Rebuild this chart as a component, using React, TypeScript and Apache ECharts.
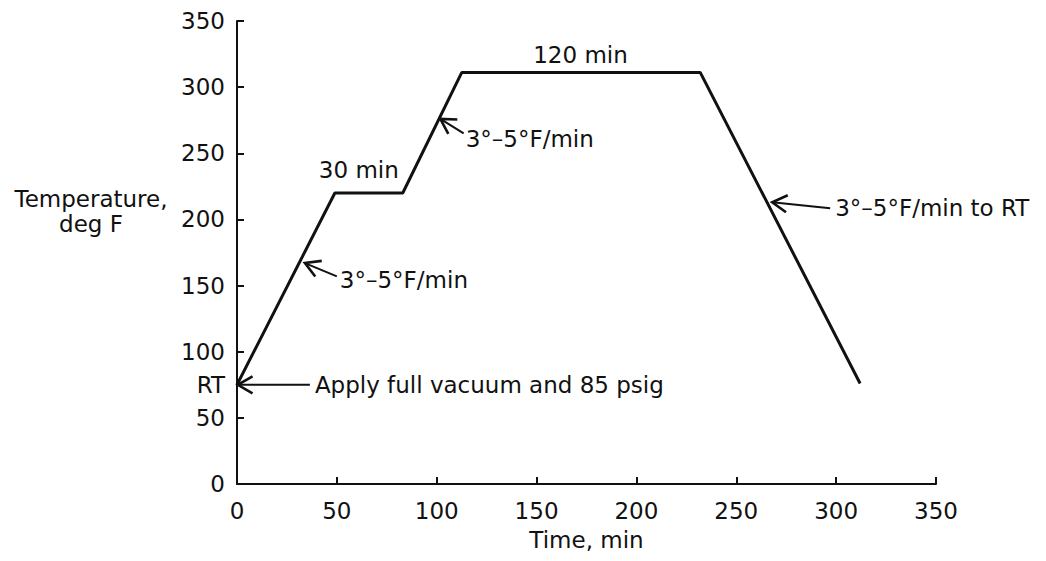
import React, { useEffect, useRef } from "react";
import * as echarts from "echarts";

// Cure cycle: time (min) vs temperature (deg F)
const timeMin: number[] = [0, 49, 83, 112.5, 232, 312];
const tempF: number[] = [75, 220, 220, 311, 311, 76];

const xTicks = { min: 0, max: 350, interval: 50 };
const yTicks = { min: 0, max: 350, interval: 50 };

const roomTemp = 75;

// Arrow annotations: tip on the curve, tail of the shaft, and label anchor (left-middle), in data coords
const arrowNotes: {
  text: string;
  tip: [number, number];
  tail: [number, number];
  label: [number, number];
}[] = [
  { text: "Apply full vacuum and 85 psig", tip: [0.4, 75], tail: [36.5, 75], label: [39, 74.5] },
  { text: "3°–5°F/min", tip: [34, 167], tail: [50, 157], label: [51.5, 154] },
  { text: "3°–5°F/min", tip: [101.8, 276], tail: [113.5, 265], label: [114.5, 260.5] },
  { text: "3°–5°F/min to RT", tip: [268, 213], tail: [297, 208.5], label: [299.5, 209] },
];

// Plain hold-time labels (data coords of the label centre)
const holdNotes: { text: string; at: [number, number] }[] = [
  { text: "30 min", at: [61, 237] },
  { text: "120 min", at: [172, 324] },
];

const FONT = "DejaVu Sans";
const INK = "#111";

export default function App() {
  const ref = useRef<HTMLDivElement>(null);

  useEffect(() => {
    if (!ref.current) return;
    const chart = echarts.init(ref.current, undefined, { renderer: "svg" });

    chart.setOption({
      animation: false,
      backgroundColor: "#fff",
      grid: { left: 237, right: 110, top: 21, bottom: 77 },
      xAxis: {
        type: "value",
        min: xTicks.min,
        max: xTicks.max,
        interval: xTicks.interval,
        name: "Time, min",
        nameLocation: "middle",
        nameGap: 44,
        nameTextStyle: { fontFamily: FONT, fontSize: 23, color: INK },
        axisLine: { show: true, lineStyle: { color: INK, width: 2 } },
        axisTick: { show: true, inside: true, length: 7, lineStyle: { color: INK, width: 2 } },
        axisLabel: { fontFamily: FONT, fontSize: 23, color: INK, margin: 15 },
        splitLine: { show: false },
      },
      yAxis: {
        type: "value",
        min: yTicks.min,
        max: yTicks.max,
        interval: yTicks.interval,
        axisLine: { show: true, lineStyle: { color: INK, width: 2 } },
        axisTick: { show: true, inside: true, length: 7, lineStyle: { color: INK, width: 2 } },
        axisLabel: { fontFamily: FONT, fontSize: 23, color: INK, margin: 12 },
        splitLine: { show: false },
      },
      series: [
        {
          type: "line",
          data: timeMin.map((t, i) => [t, tempF[i]]),
          symbol: "none",
          lineStyle: { color: INK, width: 3 },
          z: 3,
        },
      ],
    });

    const px = (p: [number, number]) =>
      chart.convertToPixel({ xAxisIndex: 0, yAxisIndex: 0 }, p) as number[];

    const graphics: any[] = [];
    const textEl = (text: string, x: number, y: number, align: string) => ({
      type: "text",
      style: {
        text,
        x,
        y,
        fill: INK,
        fontFamily: FONT,
        fontSize: 23,
        textAlign: align,
        textVerticalAlign: "middle",
      },
      z: 10,
    });

    arrowNotes.forEach((n) => {
      const tip = px(n.tip);
      const tail = px(n.tail);
      const lab = px(n.label);
      const dx = tail[0] - tip[0];
      const dy = tail[1] - tip[1];
      const len = Math.hypot(dx, dy) || 1;
      const ux = dx / len;
      const uy = dy / len;
      const head = 17;
      const ang = (30 * Math.PI) / 180;
      const rot = (a: number) => [
        tip[0] + head * (ux * Math.cos(a) - uy * Math.sin(a)),
        tip[1] + head * (ux * Math.sin(a) + uy * Math.cos(a)),
      ];
      graphics.push({
        type: "line",
        shape: { x1: tip[0], y1: tip[1], x2: tail[0], y2: tail[1] },
        style: { stroke: INK, lineWidth: 2 },
        z: 10,
      });
      graphics.push({
        type: "polyline",
        shape: { points: [rot(ang), tip, rot(-ang)] },
        style: { stroke: INK, lineWidth: 2.6, fill: null, lineJoin: "miter" },
        z: 10,
      });
      graphics.push(textEl(n.text, lab[0], lab[1], "left"));
    });

    holdNotes.forEach((n) => {
      const p = px(n.at);
      graphics.push(textEl(n.text, p[0], p[1], "center"));
    });

    // Room-temperature marker on the temperature axis
    const rt = px([0, roomTemp]);
    graphics.push(textEl("RT", rt[0] - 12, rt[1], "right"));

    // Temperature axis title
    graphics.push({
      type: "text",
      style: {
        text: "Temperature,\ndeg F",
        x: 91,
        y: 211,
        fill: INK,
        fontFamily: FONT,
        fontSize: 23,
        lineHeight: 25,
        textAlign: "center",
        textVerticalAlign: "middle",
      },
    });

    chart.setOption({ graphic: graphics });

    return () => chart.dispose();
  }, []);

  return (
    <div
      ref={ref}
      style={{ position: "fixed", left: 0, top: 0, width: 1046, height: 561, background: "#fff" }}
    />
  );
}
